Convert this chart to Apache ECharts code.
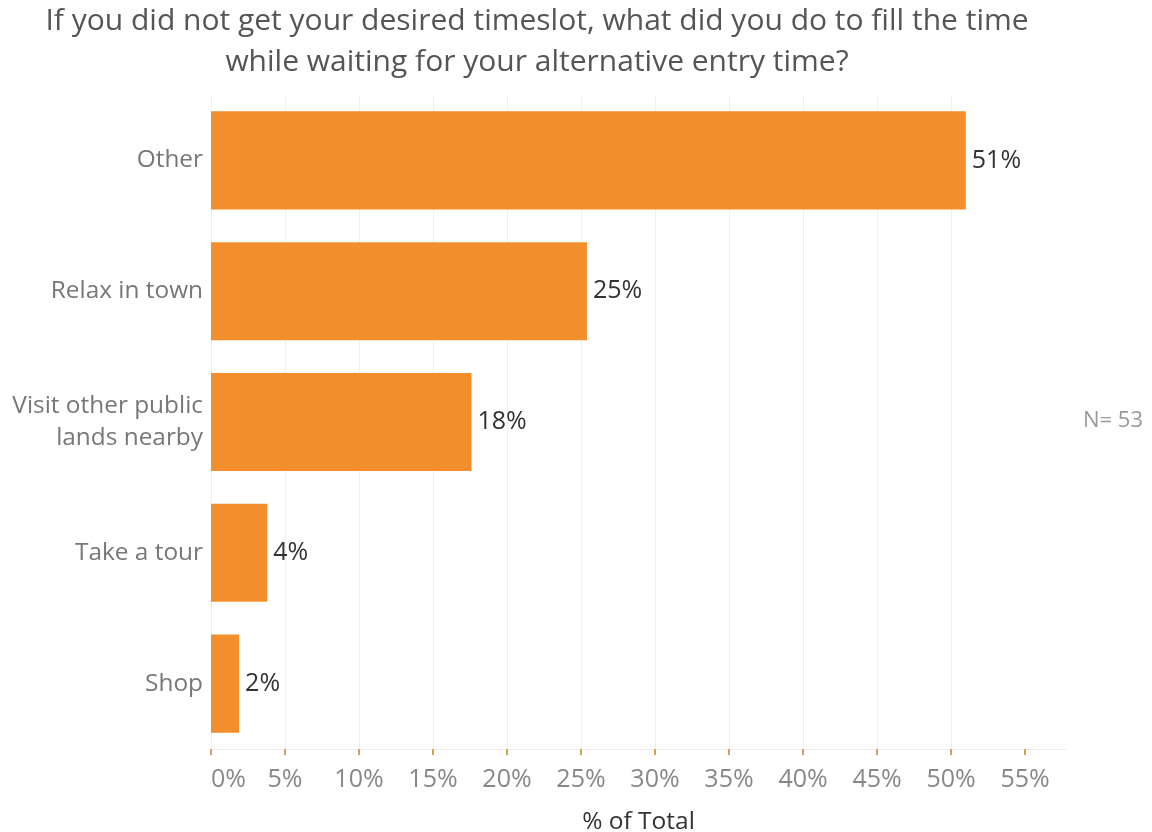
<!DOCTYPE html>
<html>
<head>
<meta charset="utf-8">
<style>
  html, body { margin: 0; padding: 0; background: #fff; }
  #chart { width: 1152px; height: 832px; }
</style>
<script src="https://cdn.jsdelivr.net/npm/echarts@6/dist/echarts.min.js"></script>
</head>
<body>
<div id="chart"></div>
<script>
// Activities while waiting for an alternative entry time
const categories = ['Other', 'Relax in town', 'Visit other public\nlands nearby', 'Take a tour', 'Shop'];
const shares = [51.0, 25.4, 17.6, 3.8, 1.9];   // % of total responses
const tickValues = [0, 5, 10, 15, 20, 25, 30, 35, 40, 45, 50, 55];
const sampleNote = 'N= 53';
const titleLines = [
  'If you did not get your desired timeslot, what did you do to fill the time',
  'while waiting for your alternative entry time?'
];

const FONT = 'Open Sans';
const chart = echarts.init(document.getElementById('chart'));

chart.setOption({
  animation: false,
  backgroundColor: '#fff',
  title: {
    text: titleLines.join('\n'),
    left: 537,
    top: 1,
    padding: 0,
    textAlign: 'center',
    textStyle: { fontFamily: FONT, fontSize: 30, fontWeight: 'normal', color: '#555', lineHeight: 41 }
  },
  grid: { left: 211, right: 86, top: 95, bottom: 83, containLabel: false, outerBoundsMode: 'none' },
  xAxis: {
    type: 'value',
    min: 0,
    max: 57.77,
    interval: 5,
    name: '% of Total',
    nameLocation: 'middle',
    nameGap: 61,
    nameTextStyle: { fontFamily: FONT, fontSize: 24.5, color: '#333', fontWeight: 'normal' },
    axisLine: { show: true, lineStyle: { color: '#ececec', width: 1 } },
    axisTick: { show: true, length: 6, lineStyle: { color: '#c8a850', width: 2 }, customValues: tickValues },
    axisLabel: {
      customValues: tickValues,
      margin: 18,
      alignMinLabel: 'left',
      fontFamily: FONT, fontSize: 25, color: '#888',
      formatter: v => v + '%'
    },
    splitLine: { show: true, showMaxLine: false, lineStyle: { color: '#f0f0f0', width: 1 } }
  },
  yAxis: {
    type: 'category',
    data: categories,
    inverse: true,
    axisLine: { show: false },
    axisTick: { show: false },
    axisLabel: { margin: 8, fontFamily: FONT, fontSize: 24.4, color: '#777', lineHeight: 32, align: 'right' }
  },
  series: [{
    type: 'bar',
    data: shares,
    barCategoryGap: '25%',
    itemStyle: { color: '#F28E2B' },
    label: {
      show: true,
      position: 'right',
      distance: 6,
      fontFamily: FONT, fontSize: 25, color: '#333',
      formatter: p => Math.round(p.value) + '%'
    }
  }],
  graphic: [{
    type: 'text',
    left: 1083,
    top: 410,
    style: { text: sampleNote, fontFamily: FONT, fontSize: 22, fill: '#999' }
  }]
});
</script>
</body>
</html>
